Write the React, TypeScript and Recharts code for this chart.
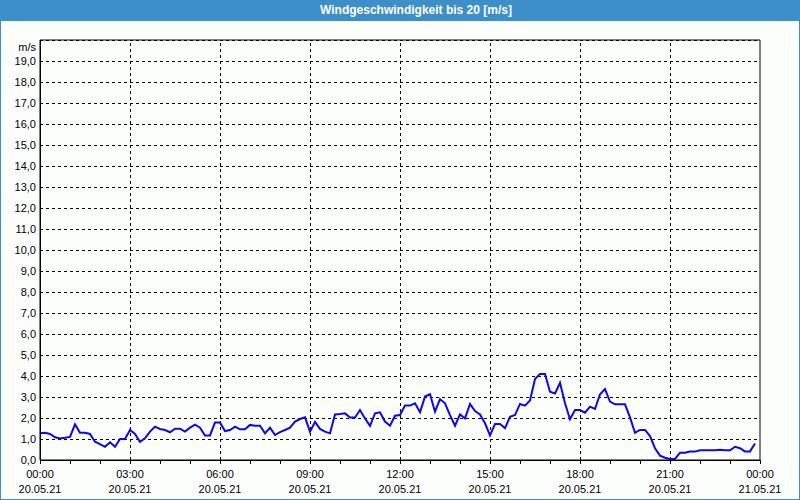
import {
    LineChart,
    Line,
    XAxis,
    YAxis,
    CartesianGrid,
    ReferenceLine,
    ReferenceArea
} from 'recharts'

// wind speed in m/s, one reading every 10 minutes from 20.05.21 00:00
const windSpeed = [
    1.27, 1.3, 1.24, 1.08, 1.03, 1.06, 1.1, 1.7, 1.3, 1.3, 1.24, 0.87,
    0.76, 0.63, 0.84, 0.63, 1.0, 1.0, 1.43, 1.24, 0.87, 1.03, 1.35, 1.59,
    1.48, 1.43, 1.32, 1.49, 1.49, 1.35, 1.54, 1.68, 1.54, 1.17, 1.17, 1.78,
    1.78, 1.38, 1.43, 1.59, 1.46, 1.46, 1.67, 1.63, 1.63, 1.27, 1.54, 1.19,
    1.33, 1.43, 1.54, 1.83, 1.95, 2.03, 1.35, 1.81, 1.48, 1.35, 1.27, 2.17,
    2.19, 2.22, 2.02, 2.02, 2.38, 1.98, 1.63, 2.22, 2.27, 1.83, 1.63, 2.11,
    2.14, 2.59, 2.59, 2.7, 2.27, 3.02, 3.13, 2.3, 2.9, 2.7, 2.14, 1.63,
    2.17, 1.98, 2.67, 2.33, 2.17, 1.75, 1.17, 1.71, 1.71, 1.52, 2.06, 2.14,
    2.67, 2.59, 2.83, 3.86, 4.1, 4.1, 3.25, 3.17, 3.68, 2.7, 1.94, 2.38,
    2.38, 2.25, 2.54, 2.43, 3.13, 3.38, 2.78, 2.65, 2.65, 2.65, 2.03, 1.3,
    1.43, 1.43, 1.14, 0.56, 0.21, 0.11, 0.05, 0.05, 0.35, 0.35, 0.4, 0.4,
    0.46, 0.46, 0.46, 0.46, 0.49, 0.46, 0.46, 0.63, 0.56, 0.41, 0.41, 0.79
]
const stepMinutes = 10

const hourTicks = [
    0, 60, 120, 180, 240, 300, 360, 420, 480, 540, 600, 660, 720,
    780, 840, 900, 960, 1020, 1080, 1140, 1200, 1260, 1320, 1380, 1440
]
const labelMinutes = [0, 180, 360, 540, 720, 900, 1080, 1260, 1440]
const timeLabels = ['00:00', '03:00', '06:00', '09:00', '12:00', '15:00', '18:00', '21:00', '00:00']
const dateLabels = ['20.05.21', '20.05.21', '20.05.21', '20.05.21', '20.05.21', '20.05.21', '20.05.21', '20.05.21', '21.05.21']
const gridMinutes = [180, 360, 540, 720, 900, 1080, 1260]
const yTicks = [0, 1, 2, 3, 4, 5, 6, 7, 8, 9, 10, 11, 12, 13, 14, 15, 16, 17, 18, 19, 20]

const chartData = windSpeed.map((v, i) => ({ minute: i * stepMinutes, speed: v }))

const font = '"Liberation Sans", Arial, sans-serif'

const crisp = `
.recharts-cartesian-grid line,
.recharts-reference-line line,
.recharts-reference-area rect,
.recharts-cartesian-axis line { shape-rendering: crispEdges; }
`

function XTick({ x, y, payload }: any) {
    const idx = labelMinutes.indexOf(payload.value)
    if (idx < 0) return null
    return (
        <text x={x} y={y} textAnchor="middle" fontSize={11} fontFamily={font} fill="#000">
            <tspan x={x} dy="0.71em">{timeLabels[idx]}</tspan>
            <tspan x={x} dy={15}>{dateLabels[idx]}</tspan>
        </text>
    )
}

function YTick({ x, y, payload }: any) {
    const isTop = payload.value === 20
    const label = isTop ? 'm/s' : payload.value.toFixed(1).replace('.', ',')
    return (
        <text x={x} y={isTop ? y + 7 : y} dy="0.355em" textAnchor="end" fontSize={11} fontFamily={font} fill="#000">
            {label}
        </text>
    )
}

export default function App() {
    return (
        <div style={{
            position: 'fixed', left: 0, top: 0, width: 800, height: 500,
            background: '#fcfefc', boxSizing: 'border-box', border: '1px solid #3c8fc8'
        }}>
            <style>{crisp}</style>
            <div style={{
                position: 'absolute', left: -1, top: -1, width: 800, height: 21,
                background: '#3c8fc8', color: '#fff', fontFamily: font, fontWeight: 'bold',
                fontSize: 12, lineHeight: '21px', textAlign: 'center', paddingLeft: 32, boxSizing: 'border-box'
            }}>
                Windgeschwindigkeit bis 20 [m/s]
            </div>
            <div style={{ position: 'absolute', left: -1, top: -1 }}>
                <LineChart
                    width={800}
                    height={500}
                    data={chartData}
                    margin={{ top: 40, right: 40, bottom: 0, left: 0 }}
                >
                    <CartesianGrid vertical={false} stroke="#000" strokeDasharray="3 3" />
                    {gridMinutes.map(m => (
                        <ReferenceLine key={m} x={m} stroke="#000" strokeDasharray="3 3" />
                    ))}
                    <XAxis
                        dataKey="minute"
                        type="number"
                        domain={[0, 1440]}
                        ticks={hourTicks}
                        interval={0}
                        height={40}
                        tickSize={4}
                        tickMargin={6}
                        stroke="#000"
                        tick={<XTick />}
                    />
                    <YAxis
                        type="number"
                        domain={[0, 20]}
                        ticks={yTicks}
                        interval={0}
                        width={40}
                        tickLine={false}
                        tickSize={0}
                        tickMargin={4}
                        stroke="#000"
                        tick={<YTick />}
                    />
                    <ReferenceArea x1={0} x2={1440} y1={0} y2={20} stroke="#000" fill="none" fillOpacity={0} />
                    <Line
                        type="linear"
                        dataKey="speed"
                        stroke="#0a0ae6"
                        strokeWidth={2}
                        dot={false}
                        isAnimationActive={false}
                    />
                </LineChart>
            </div>
        </div>
    )
}
